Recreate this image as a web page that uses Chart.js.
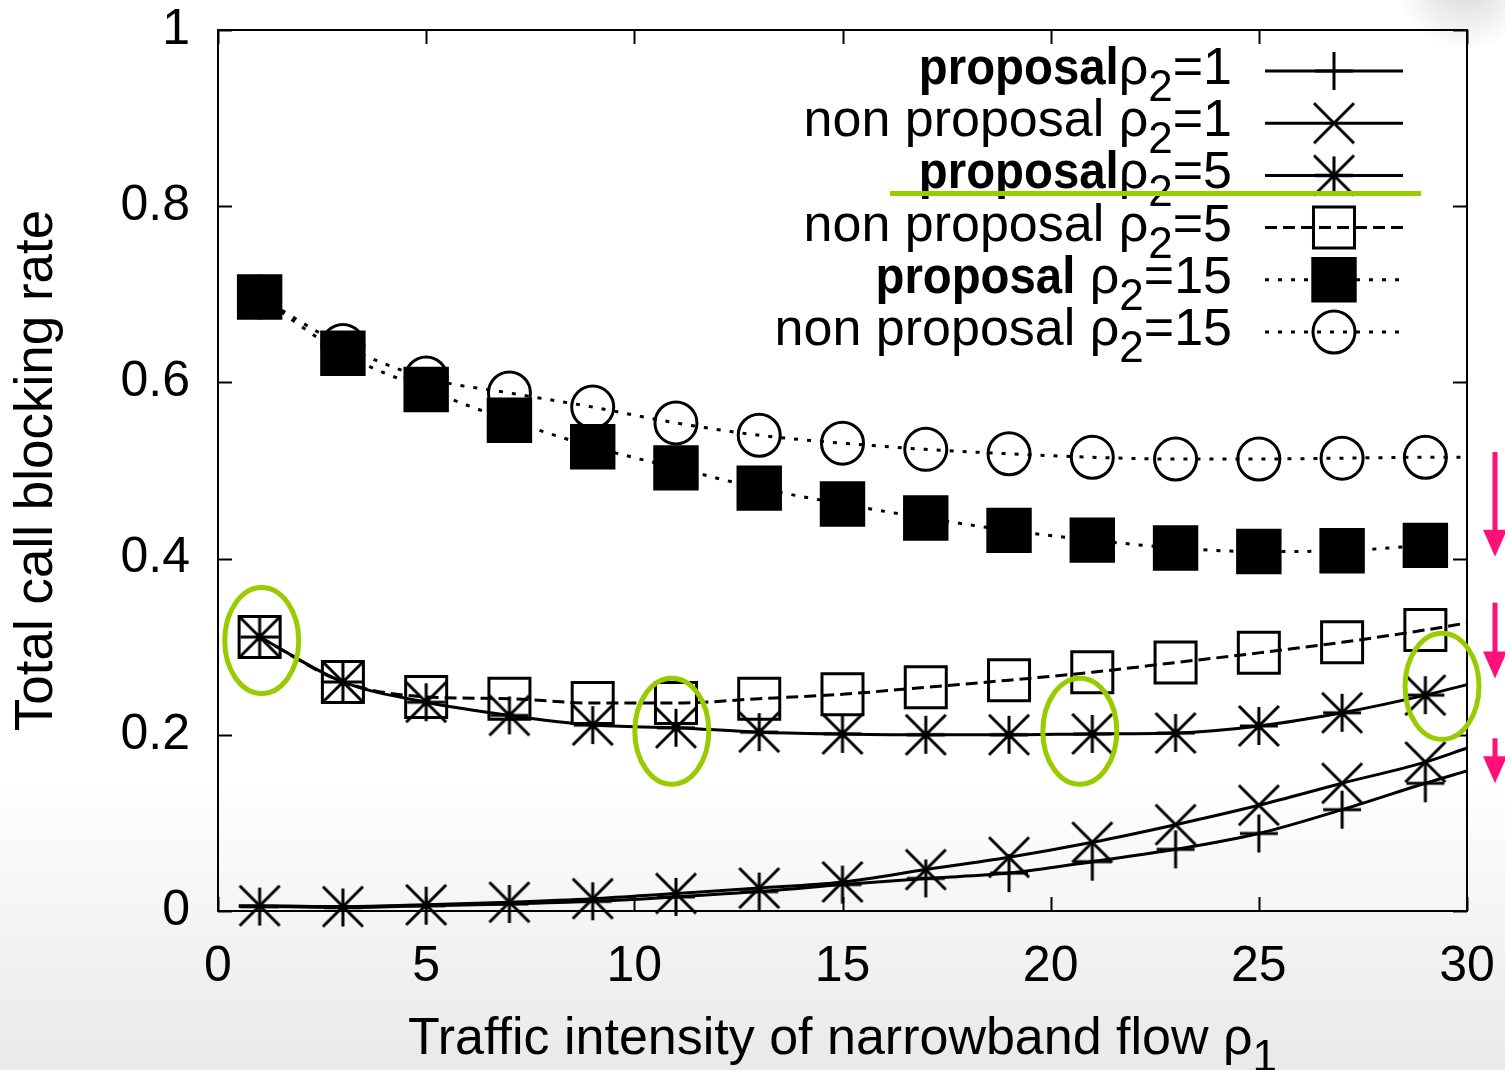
<!DOCTYPE html>
<html lang="en">
<head>
<meta charset="UTF-8">
<title>Total call blocking rate</title>
<script src="https://cdn.jsdelivr.net/npm/chart.js"></script>
<style>
  html, body { margin: 0; padding: 0; background: #fff; }
  canvas { display: block; }
</style>
</head>
<body>
<canvas id="blockingChart" width="1505" height="1070"></canvas>
<script>
// traffic intensity of narrowband flow (rho1) where the points were simulated
const rho1 = [1, 3, 5, 7, 9, 11, 13, 15, 17, 19, 21, 23, 25, 27, 29];

const propRho1     = [0.005, 0.004, 0.006, 0.008, 0.011, 0.016, 0.022, 0.030, 0.037, 0.043, 0.056, 0.070, 0.088, 0.115, 0.145];
const nonPropRho1  = [0.006, 0.005, 0.007, 0.010, 0.014, 0.020, 0.026, 0.033, 0.047, 0.061, 0.078, 0.098, 0.120, 0.145, 0.169];
const propRho5     = [0.311, 0.260, 0.237, 0.222, 0.211, 0.208, 0.203, 0.201, 0.200, 0.200, 0.201, 0.202, 0.210, 0.225, 0.245];
const nonPropRho5  = [0.311, 0.260, 0.243, 0.241, 0.236, 0.236, 0.241, 0.246, 0.254, 0.262, 0.271, 0.282, 0.293, 0.305, 0.319];
const propRho15    = [0.697, 0.633, 0.592, 0.557, 0.527, 0.503, 0.480, 0.462, 0.446, 0.432, 0.421, 0.412, 0.408, 0.409, 0.415];
const nonPropRho15 = [0.697, 0.642, 0.605, 0.588, 0.572, 0.554, 0.540, 0.531, 0.524, 0.519, 0.515, 0.513, 0.513, 0.514, 0.515];

// the smoothed curves run a little past the markers (start at 0.5, end at 30)
const lineStartX = 0.5;
const lineEndX = 30;
const startVals = [0.005, 0.006, null, null, null, null];
const endVals   = [0.159, 0.185, 0.257, 0.327, null, 0.515];

// "**" toggles bold, "_" makes the next character a subscript
const seriesLabels = [
  '**proposal**ρ_2=1',
  'non proposal ρ_2=1',
  '**proposal**ρ_2=5',
  'non proposal ρ_2=5',
  '**proposal** ρ_2=15',
  'non proposal ρ_2=15'
];
const yTickLabels = ['0', '0.2', '0.4', '0.6', '0.8', '1'];
const xTitle = 'Traffic intensity of narrowband flow ρ_1';
const yTitle = 'Total call blocking rate';

const FONT = '"Liberation Sans", Arial, Helvetica, sans-serif';
const FS = 50;       // tick labels
const FS_TEXT = 52;  // legend and x title
const GREEN = '#99cc00';
const PINK = '#ff0f78';

// gnuplot-like markers
function marker(kind) {
  const c = document.createElement('canvas');
  c.width = 46; c.height = 46;
  const g = c.getContext('2d');
  g.strokeStyle = '#000';
  g.lineWidth = 3;
  g.beginPath();
  if (kind === 'plus' || kind === 'star') {
    g.moveTo(4, 23); g.lineTo(42, 23);
    g.moveTo(23, 4); g.lineTo(23, 42);
  }
  if (kind === 'x' || kind === 'star') {
    g.moveTo(3, 3); g.lineTo(43, 43);
    g.moveTo(43, 3); g.lineTo(3, 43);
  }
  g.stroke();
  return c;
}
const plusMark = marker('plus');
const xMark = marker('x');
const starMark = marker('star');

function points(vals, i) {
  const arr = [];
  if (startVals[i] != null) arr.push({ x: lineStartX, y: startVals[i], m: false });
  rho1.forEach((x, k) => arr.push({ x: x, y: vals[k], m: true }));
  if (endVals[i] != null) arr.push({ x: lineEndX, y: endVals[i], m: false });
  return arr;
}

const styles = [
  { vals: propRho1,     pointStyle: plusMark, radius: 20, dash: [],      fill: 'transparent' },
  { vals: nonPropRho1,  pointStyle: xMark,    radius: 20, dash: [],      fill: 'transparent' },
  { vals: propRho5,     pointStyle: starMark, radius: 20, dash: [],      fill: 'transparent' },
  { vals: nonPropRho5,  pointStyle: 'rect',   radius: 29, dash: [12, 6], fill: 'transparent' },
  { vals: propRho15,    pointStyle: 'rect',   radius: 30, dash: [4, 9],  fill: '#000' },
  { vals: nonPropRho15, pointStyle: 'circle', radius: 21, dash: [4, 9],  fill: 'transparent' }
];

const datasets = styles.map((s, i) => ({
  label: seriesLabels[i],
  data: points(s.vals, i),
  borderColor: '#000',
  borderWidth: 3,
  borderDash: s.dash,
  cubicInterpolationMode: 'monotone',
  pointStyle: s.pointStyle,
  pointRadius: ctx => (ctx.raw && ctx.raw.m ? s.radius : 0),
  pointBorderWidth: 3,
  pointBorderColor: '#000',
  pointBackgroundColor: s.fill,
  clip: false
}));

function parseRich(str) {
  const segs = [];
  let bold = false, buf = '', i = 0;
  const flush = () => { if (buf) segs.push({ t: buf, bold: bold, sub: false }); buf = ''; };
  while (i < str.length) {
    if (str.startsWith('**', i)) { flush(); bold = !bold; i += 2; }
    else if (str[i] === '_') { flush(); segs.push({ t: str[i + 1], bold: bold, sub: true }); i += 2; }
    else { buf += str[i]; i++; }
  }
  flush();
  return segs;
}

// the bold face in the slide is a bit narrower than Liberation Sans Bold
const BOLD_SQUEEZE = 0.91;

function drawRich(ctx, str, x, y, align, size) {
  const segs = parseRich(str);
  const fontOf = s => (s.bold ? 'bold ' : '') + (s.sub ? Math.round(size * 0.85) : size) + 'px ' + FONT;
  let total = 0;
  segs.forEach(s => {
    ctx.font = fontOf(s);
    s.w = ctx.measureText(s.t).width * (s.bold ? BOLD_SQUEEZE : 1);
    total += s.w;
  });
  let cx = align === 'right' ? x - total : align === 'center' ? x - total / 2 : x;
  ctx.textAlign = 'left';
  ctx.textBaseline = 'alphabetic';
  ctx.fillStyle = '#000';
  segs.forEach(s => {
    ctx.font = fontOf(s);
    const ty = y + (s.sub ? size * 0.33 : 0);
    if (s.bold) {
      ctx.save();
      ctx.translate(cx, ty);
      ctx.scale(BOLD_SQUEEZE, 1);
      ctx.fillText(s.t, 0, 0);
      ctx.restore();
    } else {
      ctx.fillText(s.t, cx, ty);
    }
    cx += s.w;
  });
}

// keep tick-label overhang from pushing the plot frame inwards
function noOverhang(s) {
  s.paddingTop = 0; s.paddingBottom = 0; s.paddingLeft = 0; s.paddingRight = 0;
}

const decor = {
  id: 'decor',
  beforeDraw(chart) {
    const { ctx, width, height } = chart;
    ctx.save();
    const bg = ctx.createLinearGradient(0, 0, 0, height);
    bg.addColorStop(0, '#ffffff');
    bg.addColorStop(0.73, '#ffffff');
    bg.addColorStop(0.86, '#f4f4f4');
    bg.addColorStop(1, '#e9e9e9');
    ctx.fillStyle = bg;
    ctx.fillRect(0, 0, width, height);
    const blob = ctx.createRadialGradient(1465, -20, 5, 1465, -20, 70);
    blob.addColorStop(0, 'rgba(190,190,190,0.6)');
    blob.addColorStop(1, 'rgba(190,190,190,0)');
    ctx.fillStyle = blob;
    ctx.fillRect(1380, 0, 125, 60);
    ctx.restore();
  },
  beforeDatasetsDraw(chart) {
    const { ctx, chartArea: a, scales: { x, y } } = chart;
    ctx.save();
    ctx.strokeStyle = '#000';
    ctx.lineWidth = 2;
    ctx.strokeRect(a.left, a.top, a.right - a.left, a.bottom - a.top);
    ctx.beginPath();
    const tl = 14;
    y.ticks.forEach(t => {
      const py = Math.round(y.getPixelForValue(t.value)) + 0.5;
      ctx.moveTo(a.left, py); ctx.lineTo(a.left + tl, py);
      ctx.moveTo(a.right, py); ctx.lineTo(a.right - tl, py);
    });
    x.ticks.forEach(t => {
      const px = Math.round(x.getPixelForValue(t.value)) + 0.5;
      ctx.moveTo(px, a.bottom); ctx.lineTo(px, a.bottom - tl);
      ctx.moveTo(px, a.top); ctx.lineTo(px, a.top + tl);
    });
    ctx.stroke();
    ctx.restore();
  },
  afterDraw(chart) {
    const { ctx, chartArea: a, scales: { x, y } } = chart;
    ctx.save();

    // x axis title with subscript
    drawRich(ctx, xTitle, (a.left + a.right) / 2, 1054, 'center', FS_TEXT);

    // legend: right-aligned text, line sample with marker in the middle
    const rowTop = 71, rowStep = 52.2;
    const textRight = 1232, lineL = 1265, lineR = 1403, mid = 1334;
    chart.data.datasets.forEach((ds, i) => {
      const ry = rowTop + i * rowStep;
      drawRich(ctx, seriesLabels[i], textRight, ry + 13, 'right', FS_TEXT);
      ctx.save();
      ctx.strokeStyle = '#000';
      ctx.lineWidth = ds.borderWidth;
      ctx.setLineDash(ds.borderDash);
      ctx.beginPath();
      ctx.moveTo(lineL, ry); ctx.lineTo(lineR, ry);
      ctx.stroke();
      ctx.setLineDash([]);
      ctx.fillStyle = ds.pointBackgroundColor;
      ctx.strokeStyle = '#000';
      ctx.lineWidth = ds.pointBorderWidth;
      Chart.helpers.drawPoint(ctx, {
        pointStyle: ds.pointStyle,
        radius: styles[i].radius,
        rotation: 0,
        borderWidth: ds.pointBorderWidth
      }, mid, ry);
      ctx.restore();
    });

    // slide annotations: green highlight marks
    ctx.strokeStyle = GREEN;
    ctx.lineWidth = 5;
    ctx.beginPath();
    ctx.moveTo(890, rowTop + 2 * rowStep + 18);
    ctx.lineTo(1421, rowTop + 2 * rowStep + 18);
    ctx.stroke();
    [[1.05, 0.307], [10.9, 0.204], [20.7, 0.204], [29.4, 0.255]].forEach(([vx, vy]) => {
      ctx.beginPath();
      ctx.ellipse(x.getPixelForValue(vx), y.getPixelForValue(vy), 37, 53, 0, 0, Math.PI * 2);
      ctx.stroke();
    });

    // pink arrows at the right edge
    const ax = a.right + 28;
    ctx.strokeStyle = PINK;
    ctx.fillStyle = PINK;
    [[0.521, 0.402], [0.350, 0.264], [0.196, 0.145]].forEach(([from, to]) => {
      const y1 = y.getPixelForValue(from), y2 = y.getPixelForValue(to);
      const head = 27;
      ctx.lineWidth = 5;
      ctx.beginPath();
      ctx.moveTo(ax, y1); ctx.lineTo(ax, y2 - head + 2);
      ctx.stroke();
      ctx.beginPath();
      ctx.moveTo(ax - 12, y2 - head); ctx.lineTo(ax + 12, y2 - head); ctx.lineTo(ax, y2);
      ctx.closePath();
      ctx.fill();
    });
    ctx.restore();
  }
};

new Chart(document.getElementById('blockingChart'), {
  type: 'line',
  data: { datasets: datasets },
  plugins: [decor],
  options: {
    responsive: false,
    animation: false,
    events: [],
    layout: { autoPadding: false, padding: { top: 30, right: 38, left: 0, bottom: 0 } },
    plugins: { legend: { display: false }, tooltip: { enabled: false } },
    scales: {
      x: {
        type: 'linear', min: 0, max: 30,
        afterFit: s => { s.height = 159; noOverhang(s); },
        grid: { display: false, drawTicks: false },
        border: { display: false },
        ticks: { stepSize: 5, maxRotation: 0, padding: 26, color: '#000', font: { family: FONT, size: FS } }
      },
      y: {
        type: 'linear', min: 0, max: 1,
        afterFit: s => { s.width = 218; noOverhang(s); },
        grid: { display: false, drawTicks: false },
        border: { display: false },
        ticks: {
          stepSize: 0.2, padding: 28, color: '#000', font: { family: FONT, size: FS },
          callback: (v, idx) => yTickLabels[idx]
        },
        title: { display: true, text: yTitle, color: '#000', font: { family: FONT, size: 53 }, padding: { top: 6, bottom: 0 } }
      }
    }
  }
});
</script>
</body>
</html>
